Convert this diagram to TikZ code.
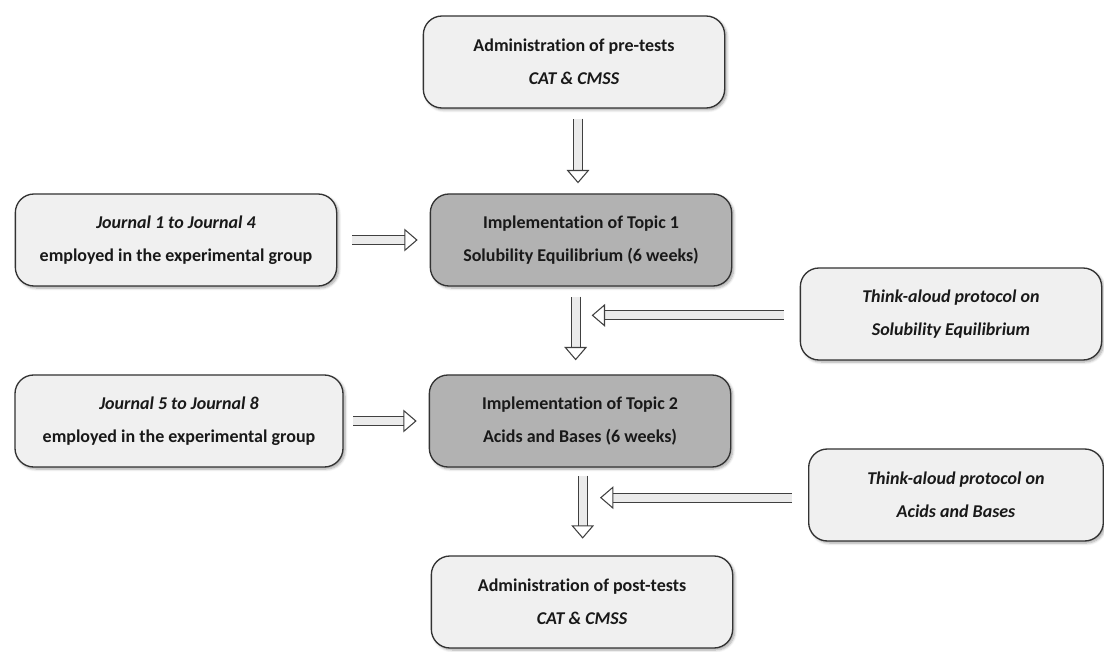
\documentclass[tikz,border=0pt]{standalone}
\usepackage{fontspec}
\setmainfont{Carlito}[Ligatures={NoCommon}]
\usepackage{tikz}
\usetikzlibrary{arrows.meta,shadows.blur}

\tikzset{
  stage/.style={draw=black!80, line width=1pt, rounded corners=14pt,
    fill=black!6, text=black!90, align=center,
    font=\bfseries\fontsize{13.5pt}{24.75pt}\selectfont,
    minimum width=226pt, minimum height=69pt, inner sep=0pt,
    blur shadow={shadow xshift=1.5pt, shadow yshift=-1.5pt, shadow blur steps=6, shadow opacity=35}},
  topic/.style={stage, fill=black!30},
  blockarr/.style={-{Triangle[open, length=10pt, width=17pt]}, double=black!8, draw=black!75,
    line width=0.8pt, double distance=6pt}
}

\begin{document}
\begin{tikzpicture}[x=0.75pt, y=-0.75pt]
  \useasboundingbox (0,0) rectangle (1104,652);

  % centre column
  \node[stage] (pre) at (574,62) {Administration of pre-tests\\ \itshape CAT \& CMSS};
  \node[topic] (topic1) at (581,240) {Implementation of Topic 1\\ Solubility Equilibrium (6 weeks)};
  \node[topic] (topic2) at (580,421) {Implementation of Topic 2\\ Acids and Bases (6 weeks)};
  \node[stage] (post) at (582,602) {Administration of post-tests\\ \itshape CAT \& CMSS};

  % side boxes
  \node[stage, minimum width=241pt] (journal1) at (176,240) {\itshape Journal 1 to Journal 4\\ employed in the experimental group};
  \node[stage, minimum width=246pt] (journal5) at (179,421) {\itshape Journal 5 to Journal 8\\ employed in the experimental group};
  \node[stage, minimum width=226pt, font=\bfseries\itshape\fontsize{13.5pt}{24.75pt}\selectfont] (think1) at (951,314) {Think-aloud protocol on\\ Solubility Equilibrium};
  \node[stage, minimum width=221pt, font=\bfseries\itshape\fontsize{13.5pt}{24.75pt}\selectfont] (think2) at (956,495) {Think-aloud protocol on\\ Acids and Bases};

  % arrows
  \draw[blockarr, shorten <=7.5pt, shorten >=7.5pt] ([xshift=3]pre.south) -- ([xshift=3]pre.south |- topic1.north);
  \draw[blockarr, shorten <=7.5pt, shorten >=10.5pt] ([xshift=-4]topic1.south) -- ([xshift=-4]topic1.south |- topic2.north);
  \draw[blockarr, shorten <=6pt, shorten >=12.5pt] ([xshift=2]topic2.south) -- ([xshift=2]topic2.south |- post.north);
  \draw[blockarr, shorten <=11pt, shorten >=9pt] (journal1.east) -- (journal1.east -| topic1.west);
  \draw[blockarr, shorten <=7pt, shorten >=9pt] (journal5.east) -- (journal5.east -| topic2.west);
  \draw[blockarr, shorten <=12pt, shorten >=8pt] ([yshift=-1]think1.west) -- ([yshift=-1]think1.west -| topic1.center);
  \draw[blockarr, shorten <=12pt, shorten >=15pt] ([yshift=-2]think2.west) -- ([yshift=-2]think2.west -| topic2.center);
\end{tikzpicture}
\end{document}
